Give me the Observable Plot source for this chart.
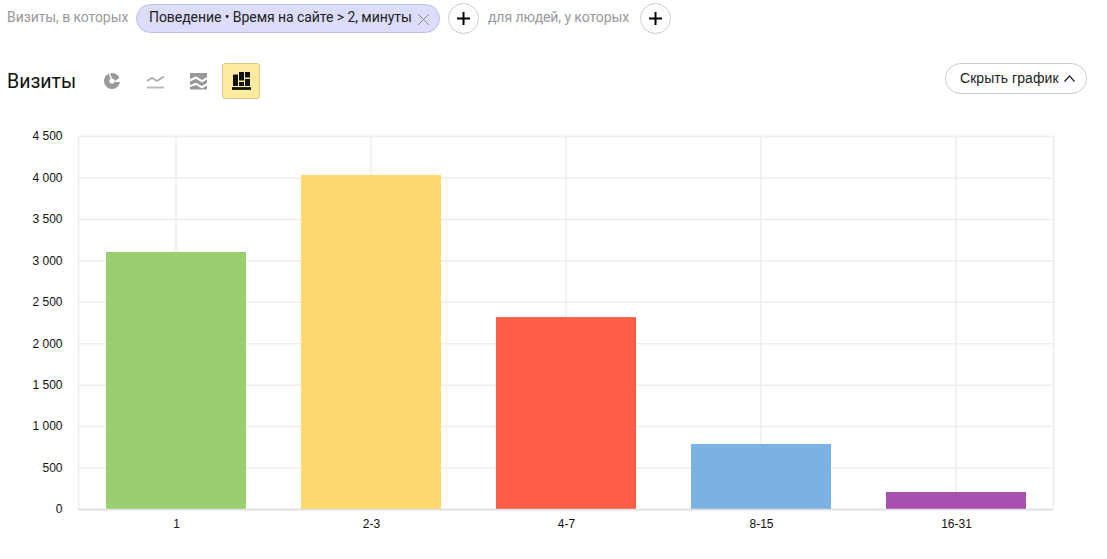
<!DOCTYPE html>
<html><head><meta charset="utf-8">
<script src="https://cdn.jsdelivr.net/npm/d3@7"></script>
<script src="https://cdn.jsdelivr.net/npm/@observablehq/plot@0.6"></script>
<style>
html,body{margin:0;padding:0;background:#fff;overflow:hidden}
body{width:1107px;height:559px;position:relative;font-family:"Liberation Sans",Arial,sans-serif}
.t{position:absolute;white-space:nowrap}
.y{font-family:Roboto,"Liberation Sans",sans-serif}
.grey{color:#999;font-size:14px;top:8px;line-height:18px;letter-spacing:-.08px}
.chip{position:absolute;left:136px;top:4px;width:302px;height:27px;background:#dcdcfb;border:1px solid #bdbdea;border-radius:15px}
.chip span{position:absolute;left:12px;top:4px;font-size:14px;line-height:17px;letter-spacing:-.06px;color:#222;white-space:nowrap}
.plus{position:absolute;top:3px;width:31px;height:31px;border:1px solid #ccc;border-radius:50%;background:#fff;box-sizing:border-box}
.sel{position:absolute;left:222px;top:63px;width:38px;height:36px;background:#ffeba0;border:1px solid #d9c88f;border-radius:3px;box-sizing:border-box}
.btn{position:absolute;left:945px;top:63px;width:142px;height:31px;border:1px solid #ccc;border-radius:16px;box-sizing:border-box}
.btn span{position:absolute;left:14px;top:6px;font-size:14px;line-height:17px;letter-spacing:.06px;color:#222;white-space:nowrap}
svg.ic{position:absolute;overflow:visible}
#chart{position:absolute;left:0;top:120px}
#chart text{font-family:"Liberation Sans",Arial,sans-serif}
</style></head><body>
<div class="t grey y" style="left:7px">Визиты, в которых</div>
<div class="chip"><span class="y">Поведение • Время на сайте &gt; 2, минуты</span>
<svg class="ic" style="left:281px;top:9px" width="11" height="11"><path d="M0 0L11 11M11 0L0 11" stroke="#888" stroke-width="1" fill="none"/></svg></div>
<div class="plus" style="left:448px"><svg class="ic" style="left:8px;top:8px" width="13" height="13"><path d="M6.5 0V13M0 6.5H13" stroke="#000" stroke-width="2" fill="none"/></svg></div>
<div class="t grey y" style="left:488px">для людей, у которых</div>
<div class="plus" style="left:640px"><svg class="ic" style="left:8px;top:8px" width="13" height="13"><path d="M6.5 0V13M0 6.5H13" stroke="#000" stroke-width="2" fill="none"/></svg></div>

<div class="t y" style="left:7px;top:70px;font-size:19.5px;line-height:24px;color:#111">Визиты</div>
<svg class="ic" style="left:104px;top:73px" width="16" height="16"><circle cx="8" cy="8" r="8" fill="#999"/><circle cx="8" cy="8" r="2.6" fill="#fff"/><path d="M8 8L5 -1" stroke="#fff" stroke-width="1.3"/><path d="M9 9L17 4L17 9Z" fill="#fff"/></svg>
<svg class="ic" style="left:147px;top:75px" width="18" height="14"><path d="M0 6L5 3L10 6L17 1.5" stroke="#aaa" stroke-width="1.6" fill="none"/><path d="M0 12.5H17" stroke="#bbb" stroke-width="2" fill="none"/></svg>
<svg class="ic" style="left:190px;top:73px" width="17" height="16"><path d="M0 0H17V4L12 7L6 3.5L0 6Z M0 8.5L6 5.8L12 9.4L17 6.5V10L12 13L6 9.8L0 12Z M0 14L6 12L12 15.5L17 12.5V16.5H0Z" fill="#999"/></svg>
<div class="sel"><svg class="ic" style="left:9px;top:8px" width="19" height="19"><path d="M1 2.5h5v11.5H1zM7 0h5v8.5H7zM7 10h5v4H7zM13 0h5v5.5H13zM13 7h5v7h-5z" fill="#111"/><path d="M0 16.5H19" stroke="#111" stroke-width="2.8"/></svg></div>
<div class="btn"><span>Скрыть график</span><svg class="ic" style="left:118px;top:11px" width="11" height="7"><path d="M0.5 6.5L5.5 1L10.5 6.5" stroke="#222" stroke-width="1.2" fill="none"/></svg></div>
<div id="chart"></div>
<script>
const categories = ["1", "2-3", "4-7", "8-15", "16-31"];
const visits = [3100, 4030, 2315, 785, 205];
const colors = ["#99cf6e", "#ffd970", "#ff5c45", "#7ab3e3", "#a94fb0"];
const yTicks = [0, 500, 1000, 1500, 2000, 2500, 3000, 3500, 4000, 4500];
const rows = categories.map((c, i) => ({c, v: visits[i]}));
const gridColor = "#eeeeee";
const fmt = d => d3.format(",")(d).replace(",", " ");

const plot = Plot.plot({
  width: 1107, height: 420,
  marginLeft: 78, marginRight: 54, marginTop: 16, marginBottom: 31,
  style: {background: "transparent", fontSize: "12px", overflow: "visible", color: "#111"},
  x: {domain: categories, paddingInner: 0.283, paddingOuter: 0.1415, label: null, tickSize: 0, tickPadding: 10},
  y: {domain: [0, 4500], ticks: yTicks, label: null, tickSize: 0, tickPadding: 16, tickFormat: fmt},
  color: {domain: categories, range: colors},
  marks: [
    Plot.gridY(yTicks, {stroke: gridColor, strokeOpacity: 1, strokeWidth: 1.5}),
    Plot.ruleX(categories, {x: d => d, dx: -0.5, stroke: gridColor, strokeWidth: 1.5}),
    Plot.frame({stroke: gridColor, strokeWidth: 1.5}),
    Plot.barY(rows, {x: "c", y: "v", fill: "c"}),
    Plot.ruleY([0], {stroke: "#dedede", strokeWidth: 1.5})
  ]
});
document.getElementById("chart").appendChild(plot);
</script>
</body></html>
